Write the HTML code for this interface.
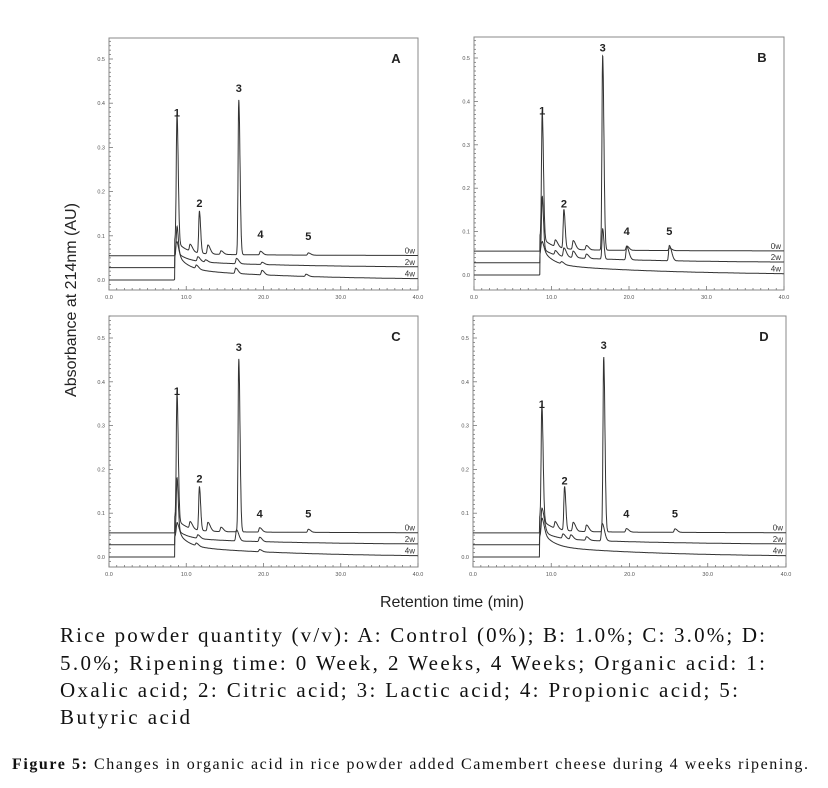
<!DOCTYPE html>
<html><head><meta charset="utf-8">
<style>
body{margin:0;background:#fff;width:828px;height:788px;overflow:hidden;position:relative;font-family:"Liberation Sans",sans-serif}
</style></head><body>
<svg id="chart" width="828" height="620" style="position:absolute;left:0;top:0"></svg>
<svg width="828" height="168" style="position:absolute;left:0;top:620px">
<g font-family="Liberation Serif, serif" font-size="21" fill="#111">
<text x="60" y="22" textLength="705" lengthAdjust="spacing">Rice powder quantity  (v/v):  A:  Control  (0%);  B:  1.0%;  C:  3.0%;  D:</text>
<text x="60" y="50" textLength="705" lengthAdjust="spacing">5.0%; Ripening  time:  0 Week, 2 Weeks, 4 Weeks; Organic  acid:  1:</text>
<text x="60" y="77" textLength="678" lengthAdjust="spacing">Oxalic acid;  2:  Citric  acid;  3: Lactic acid;  4: Propionic  acid;  5:</text>
<text x="60" y="104" textLength="130" lengthAdjust="spacing">Butyric  acid</text>
</g>
<text x="12" y="149" font-family="Liberation Serif, serif" font-size="16" fill="#111" textLength="796" lengthAdjust="spacing"><tspan font-weight="bold">Figure 5:</tspan> Changes in organic acid in rice powder added Camembert cheese during 4 weeks ripening.</text>
</svg>
<script>
const panelNames=["A","B","C","D"];
const traceNames=["0w","2w","4w"];
const xTicks=[0,10,20,30,40];
const xTickLabels=["0.0","10.0","20.0","30.0","40.0"];
const yTicks=[0,0.1,0.2,0.3,0.4,0.5];
const yTickLabels=["0.0","0.1","0.2","0.3","0.4","0.5"];
const offsets=[0.055,0.028,0.0];
const fastDecayAmp=[0.035,0.025,0.045];
const slowDecayAmp=[0.004,0.015,0.025];
const peakTimes=[
 [[8.8,10.5,11.7,12.8,14.5,16.8,19.6,25.8],[8.8,11.5,12.5,16.5,19.8],[8.7,11.3,16.4,19.8,25.5]],
 [[8.8,10.5,11.6,12.8,14.5,16.6,19.7,25.2],[8.8,10.5,11.6,12.8,14.5,16.6,19.7,25.2],[8.7,11.3]],
 [[8.8,10.5,11.7,12.8,14.5,16.8,19.5,25.8],[8.8,11.5,16.5,19.5],[8.8,11.3,19.5]],
 [[8.8,10.5,11.7,12.8,14.5,16.7,19.6,25.8],[8.8,11.5,12.5,14.5,16.5],[8.8]]
];
const peakHeights=[
 [[0.29,0.015,0.095,0.02,0.008,0.35,0.008,0.005],[0.06,0.01,0.005,0.012,0.005],[0.03,0.008,0.012,0.01,0.005]],
 [[0.29,0.015,0.09,0.02,0.01,0.45,0.01,0.006],[0.12,0.01,0.02,0.015,0.01,0.07,0.03,0.035],[0.02,0.005]],
 [[0.29,0.015,0.1,0.02,0.01,0.395,0.01,0.007],[0.12,0.008,0.025,0.01],[0.02,0.006,0.005]],
 [[0.26,0.015,0.1,0.02,0.015,0.4,0.008,0.008],[0.05,0.01,0.01,0.008,0.04],[0.03]]
];
const acidLabelTimes=[[8.8,11.7,16.8,19.6,25.8],[8.8,11.6,16.6,19.7,25.2],[8.8,11.7,16.8,19.5,25.8],[8.8,11.7,16.7,19.6,25.8]];
const acidLabelValues=[[0.37,0.165,0.425,0.095,0.09],[0.37,0.155,0.515,0.092,0.092],[0.37,0.17,0.47,0.09,0.09],[0.34,0.165,0.475,0.09,0.09]];
const acidLabels=["1","2","3","4","5"];
const frames=[
 {l:109,r:418,t:38,b:290,y0:280,y5:59},
 {l:474,r:784,t:37,b:290,y0:275,y5:58},
 {l:109,r:418,t:316,b:567,y0:557,y5:338},
 {l:473,r:786,t:316,b:567,y0:557,y5:338}
];
const svg=document.getElementById('chart');
const NS="http://www.w3.org/2000/svg";
function mk(tag,attrs,parent){const e=document.createElementNS(NS,tag);for(const k in attrs)e.setAttribute(k,attrs[k]);(parent||svg).appendChild(e);return e;}
function baseline(tr,t){if(t<8.5)return offsets[tr];const d=t-8.5;return offsets[tr]+fastDecayAmp[tr]*Math.exp(-d/1.3)+slowDecayAmp[tr]*Math.exp(-d/15)*Math.min(1,d*3);}
function signal(p,tr,t){let v=baseline(tr,t);const ts=peakTimes[p][tr],hs=peakHeights[p][tr];for(let i=0;i<ts.length;i++){const d=t-ts[i];const s=d<0?0.09:(hs[i]>0.05?0.16:0.3);v+=hs[i]*Math.exp(-d*d/(2*s*s));}return v;}
for(let p=0;p<4;p++){
 const f=frames[p];
 const g=mk('g',{});
 
 
 const xs=v=>f.l+(v/40)*(f.r-f.l);
 const ys=v=>f.y0-v*(f.y0-f.y5)/0.5;
 const box=mk('rect',{x:f.l,y:f.t,width:f.r-f.l,height:f.b-f.t,fill:'none',stroke:'#888','stroke-width':1},g);
 
 
 for(let i=0;i<=40;i++){const x=xs(i);mk('line',{x1:x,x2:x,y1:f.b,y2:f.b-(i%10==0?4:2),stroke:'#777','stroke-width':0.8},g);}
 xTicks.forEach((v,i)=>{const tx=mk('text',{x:xs(v),y:f.b+9,'font-size':5.5,'text-anchor':'middle',fill:'#555'},g);tx.textContent=xTickLabels[i];
  
  });
 for(let i=-1;i<=55;i++){const y=ys(i/100);if(y<f.t||y>f.b)continue;mk('line',{x1:f.l,x2:f.l+(i%10==0?4:2),y1:y,y2:y,stroke:'#777','stroke-width':0.8},g);}
 yTicks.forEach((v,i)=>{const ty=mk('text',{x:f.l-4,y:ys(v)+2,'font-size':5.5,'text-anchor':'end',fill:'#555'},g);ty.textContent=yTickLabels[i];
  
  });
 for(let tr=0;tr<3;tr++){
  let d='';
  for(let t=0;t<=40;t+=0.03){const v=signal(p,tr,t);d+=(t===0?'M':'L')+xs(t).toFixed(1)+','+ys(v).toFixed(1);}
  const path=mk('path',{d:d,fill:'none',stroke:'#333','stroke-width':1},g);
  
  
  const lab=mk('text',{x:f.r-3,y:ys(baseline(tr,40))-2,'font-size':8,'text-anchor':'end',fill:'#333'},g);
  lab.textContent=traceNames[tr];
  
  
 }
 acidLabels.forEach((s,i)=>{const a=mk('text',{x:xs(acidLabelTimes[p][i]),y:ys(acidLabelValues[p][i]),'font-size':11,'font-weight':'bold','text-anchor':'middle',fill:'#222'},g);a.textContent=s;
  
  });
 const pl=mk('text',{x:f.r-22,y:f.t+25,'font-size':13,'font-weight':'bold','text-anchor':'middle',fill:'#222'},g);
 pl.textContent=panelNames[p];
 
 
}
const yl=mk('text',{x:0,y:0,'font-size':16,'text-anchor':'middle',fill:'#222',transform:'translate(76,300) rotate(-90)'});
yl.textContent='Absorbance at 214nm (AU)';


const xl=mk('text',{x:452,y:607,'font-size':16,'text-anchor':'middle',fill:'#222'});
xl.textContent='Retention time (min)';


</script>
</body></html>
